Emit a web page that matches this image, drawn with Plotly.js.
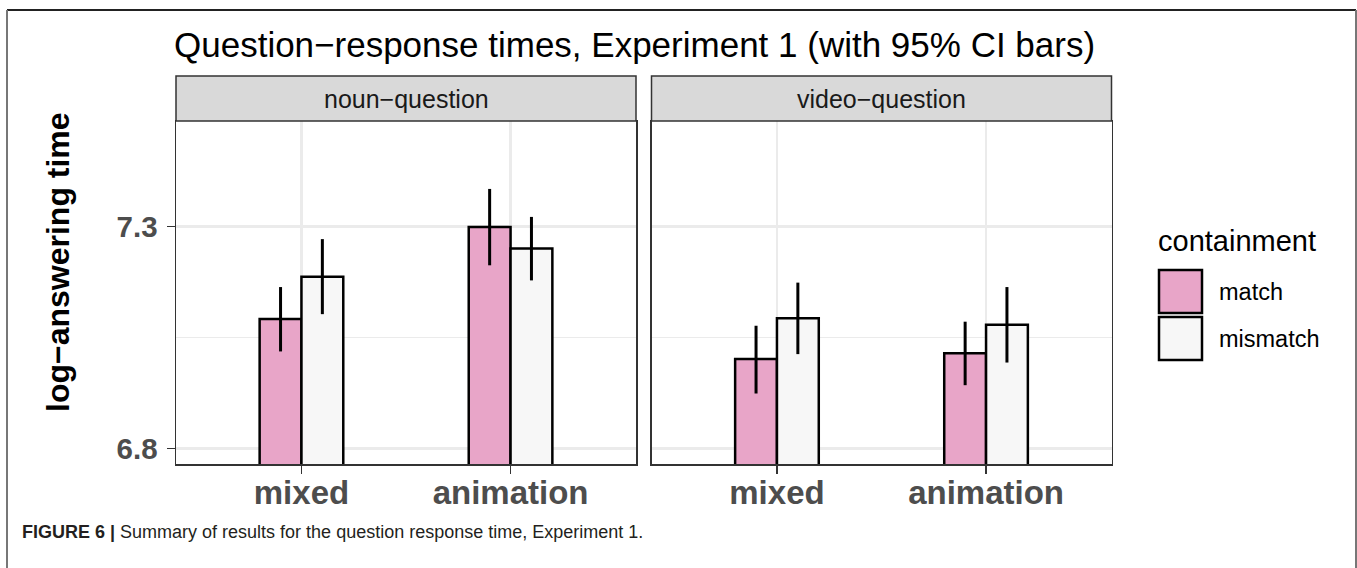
<!DOCTYPE html>
<html>
<head>
<meta charset="utf-8">
<script src="https://cdn.plot.ly/plotly-3.0.1.min.js"></script>
<style>
  html, body { margin: 0; padding: 0; background: #ffffff; }
  #chart { width: 1357px; height: 568px; }
</style>
</head>
<body>
<div id="chart"></div>
<script>
// ---- data ----
const categories = ['mixed', 'animation'];
const facets = ['noun\u2212question', 'video\u2212question'];
const seriesNames = ['match', 'mismatch'];

const nounMatch       = [7.092, 7.299];
const nounMatchLo     = [7.019, 7.213];
const nounMatchHi     = [7.164, 7.385];
const nounMismatch    = [7.187, 7.251];
const nounMismatchLo  = [7.103, 7.179];
const nounMismatchHi  = [7.272, 7.322];

const videoMatch      = [7.002, 7.015];
const videoMatchLo    = [6.924, 6.943];
const videoMatchHi    = [7.077, 7.086];
const videoMismatch   = [7.094, 7.079];
const videoMismatchLo = [7.013, 6.994];
const videoMismatchHi = [7.174, 7.164];

const yTickVals = [6.8, 7.3];
const yTickText = ['6.8', '7.3'];

// ---- styling ----
const W = 1357, H = 568;
const px = x => x / W;
const py = y => 1 - y / H;
const FONT = 'Liberation Sans, Arial, Helvetica, sans-serif';
const colMatch = '#e8a5c8';
const colMismatch = '#f7f7f7';

function bar(name, vals, lo, hi, color, xa, ya) {
  return {
    type: 'bar', name: name, x: categories, y: vals,
    xaxis: xa, yaxis: ya, showlegend: false,
    marker: { color: color, line: { color: '#000000', width: 2.5 } },
    error_y: {
      type: 'data', symmetric: false,
      array: vals.map((v, i) => hi[i] - v),
      arrayminus: vals.map((v, i) => v - lo[i]),
      color: '#000000', thickness: 3, width: 0
    },
    hoverinfo: 'skip'
  };
}

const traces = [
  bar(seriesNames[0], nounMatch, nounMatchLo, nounMatchHi, colMatch, 'x', 'y'),
  bar(seriesNames[1], nounMismatch, nounMismatchLo, nounMismatchHi, colMismatch, 'x', 'y'),
  bar(seriesNames[0], videoMatch, videoMatchLo, videoMatchHi, colMatch, 'x2', 'y2'),
  bar(seriesNames[1], videoMismatch, videoMismatchLo, videoMismatchHi, colMismatch, 'x2', 'y2')
];

const panel1 = [176, 636], panel2 = [651.5, 1111.5];
const panelTop = 121, panelBottom = 464, stripTop = 76;

function xaxisDef(dom, anchor) {
  return {
    domain: [px(dom[0]), px(dom[1])], anchor: anchor,
    type: 'category', categoryorder: 'array', categoryarray: categories,
    range: [-0.6, 1.6],
    showgrid: true, gridcolor: '#ebebeb', gridwidth: 2.5,
    showline: true, mirror: true, linecolor: '#333333', linewidth: 1.5,
    ticks: 'outside', ticklen: 8, tickwidth: 1.5, tickcolor: '#333333',
    tickfont: { family: FONT, size: 33, color: '#4d4d4d', weight: 'bold' },
    ticklabelstandoff: -9,
    zeroline: false, fixedrange: true
  };
}
function yaxisDef(anchor, showLabels) {
  return {
    domain: [py(panelBottom), py(panelTop)], anchor: anchor,
    range: [6.7655, 7.538],
    tickmode: 'array', tickvals: yTickVals, ticktext: yTickText,
    showgrid: true, gridcolor: '#ebebeb', gridwidth: 2.5,
    minor: { tickmode: 'array', tickvals: [7.05], showgrid: true, gridcolor: '#ebebeb', gridwidth: 1.5, ticks: '' },
    showline: true, mirror: true, linecolor: '#333333', linewidth: 1.5,
    ticks: showLabels ? 'outside' : '', ticklen: 8, tickwidth: 1.5, tickcolor: '#333333',
    showticklabels: showLabels,
    tickfont: { family: FONT, size: 29.5, color: '#4d4d4d', weight: 'bold' },
    ticklabelstandoff: 3,
    zeroline: false, fixedrange: true
  };
}

const shapes = [
  // outer figure frame
  { type: 'line', xref: 'paper', yref: 'paper', x0: px(7), x1: px(1356), y0: py(10), y1: py(10), line: { color: '#222222', width: 2 } },
  { type: 'line', xref: 'paper', yref: 'paper', x0: px(7), x1: px(7), y0: py(10), y1: py(568), line: { color: '#777777', width: 2 } },
  { type: 'line', xref: 'paper', yref: 'paper', x0: px(1356), x1: px(1356), y0: py(10), y1: py(568), line: { color: '#777777', width: 2 } },
  // facet strips
  { type: 'rect', xref: 'paper', yref: 'paper', x0: px(panel1[0]), x1: px(panel1[1]), y0: py(panelTop), y1: py(stripTop), fillcolor: '#d9d9d9', line: { color: '#333333', width: 1.5 }, layer: 'above' },
  { type: 'rect', xref: 'paper', yref: 'paper', x0: px(panel2[0]), x1: px(panel2[1]), y0: py(panelTop), y1: py(stripTop), fillcolor: '#d9d9d9', line: { color: '#333333', width: 1.5 }, layer: 'above' },
  // legend keys
  { type: 'rect', xref: 'paper', yref: 'paper', x0: px(1159), x1: px(1202), y0: py(313), y1: py(270), fillcolor: colMatch, line: { color: '#000000', width: 2.5 } },
  { type: 'rect', xref: 'paper', yref: 'paper', x0: px(1159), x1: px(1202), y0: py(360), y1: py(317), fillcolor: colMismatch, line: { color: '#000000', width: 2.5 } }
];

const annotations = [
  { text: facets[0], xref: 'paper', yref: 'paper', x: px((panel1[0] + panel1[1]) / 2), y: py(99), xanchor: 'center', yanchor: 'middle', showarrow: false, font: { family: FONT, size: 25, color: '#1a1a1a' } },
  { text: facets[1], xref: 'paper', yref: 'paper', x: px((panel2[0] + panel2[1]) / 2), y: py(99), xanchor: 'center', yanchor: 'middle', showarrow: false, font: { family: FONT, size: 25, color: '#1a1a1a' } },
  { text: 'log\u2212answering time', xref: 'paper', yref: 'paper', x: px(58), y: py(262), xanchor: 'center', yanchor: 'middle', textangle: -90, showarrow: false, font: { family: FONT, size: 32, color: '#000000', weight: 'bold' } },
  { text: 'containment', xref: 'paper', yref: 'paper', x: px(1156), y: py(241), xanchor: 'left', yanchor: 'middle', showarrow: false, font: { family: FONT, size: 29, color: '#000000' } },
  { text: seriesNames[0], xref: 'paper', yref: 'paper', x: px(1217), y: py(292), xanchor: 'left', yanchor: 'middle', showarrow: false, font: { family: FONT, size: 23.5, color: '#000000' } },
  { text: seriesNames[1], xref: 'paper', yref: 'paper', x: px(1217), y: py(339), xanchor: 'left', yanchor: 'middle', showarrow: false, font: { family: FONT, size: 23.5, color: '#000000' } },
  { text: '<b>FIGURE 6 |</b> Summary of results for the question response time, Experiment 1.', xref: 'paper', yref: 'paper', x: px(20), y: py(532), xanchor: 'left', yanchor: 'middle', showarrow: false, font: { family: FONT, size: 18, color: '#231f20' } }
];

const layout = {
  width: W, height: H,
  margin: { l: 0, r: 0, t: 0, b: 0, pad: 0 },
  paper_bgcolor: '#ffffff', plot_bgcolor: '#ffffff',
  title: {
    text: 'Question\u2212response times, Experiment 1 (with 95% CI bars)',
    font: { family: FONT, size: 35, color: '#000000' },
    x: px(174), xanchor: 'left', xref: 'paper',
    y: py(45), yanchor: 'middle', yref: 'container'
  },
  barmode: 'group', bargap: 0.6, bargroupgap: 0,
  showlegend: false,
  xaxis: xaxisDef(panel1, 'y'),
  xaxis2: xaxisDef(panel2, 'y2'),
  yaxis: yaxisDef('x', true),
  yaxis2: Object.assign(yaxisDef('x2', false), { matches: 'y' }),
  shapes: shapes,
  annotations: annotations
};

Plotly.newPlot('chart', traces, layout, { displayModeBar: false, staticPlot: true });
</script>
</body>
</html>
